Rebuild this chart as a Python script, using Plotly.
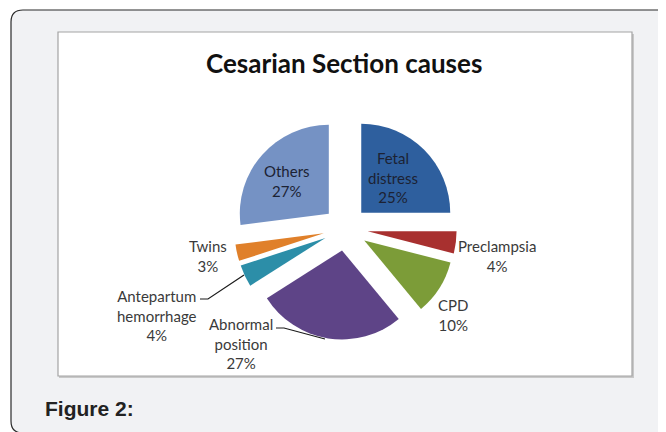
import plotly.graph_objects as go

# data
causes = ["Fetal distress", "Preclampsia", "CPD", "Abnormal position",
          "Antepartum hemorrhage", "Twins", "Others"]
percent = [25, 4, 10, 27, 4, 3, 27]
label_lines = [["Fetal", "distress"], ["Preclampsia"], ["CPD"], ["Abnormal", "position"],
               ["Antepartum", "hemorrhage"], ["Twins"], ["Others"]]

colors = ["#2e5f9e", "#a8302f", "#7c9c38", "#5e4487", "#2c8ea8", "#e0802a", "#7592c4"]
# label centres in page pixels (x, y from top)
label_pos = [(393, 177), (497, 256), (453, 315), (241, 343), (157, 315), (208, 256), (287, 181)]

W, H = 666, 432
OFF = 8  # the page body margin shifts the figure by 8px


def px(x):
    return (x - OFF) / W


def py(y):
    return 1 - (y - OFF) / H


fig = go.Figure()

# pie centre / radius in page pixels
cx, cy, r, pull = 345.5, 228.5, 89, 0.25
half = r * (1 + pull)

fig.add_trace(go.Pie(
    labels=causes,
    values=percent,
    sort=False,
    direction="clockwise",
    rotation=0,
    pull=[pull] * len(percent),
    marker=dict(colors=colors, line=dict(width=0)),
    textinfo="none",
    hoverinfo="label+percent",
    showlegend=False,
    domain=dict(x=[px(cx - half), px(cx + half)], y=[py(cy + half), py(cy - half)]),
))

shapes = []
# outer rounded panel (right and bottom edges run off the page)
rad = 12
x0, y0, y1 = 11, 10, 433
shapes.append(dict(
    type="path", xref="paper", yref="paper", layer="below",
    path=(f"M {px(700)},{py(y0)} L {px(x0 + rad)},{py(y0)} "
          f"Q {px(x0)},{py(y0)} {px(x0)},{py(y0 + rad)} "
          f"L {px(x0)},{py(y1 - rad)} Q {px(x0)},{py(y1)} {px(x0 + rad)},{py(y1)} "
          f"L {px(700)},{py(y1)} Z"),
    fillcolor="#f1f2f4", line=dict(color="#2b2b2b", width=1.2),
))
# chart box with a soft shadow
shapes.append(dict(type="rect", xref="paper", yref="paper", layer="below",
                   x0=px(59), y0=py(378), x1=px(634), y1=py(34),
                   fillcolor="#c8c8c8", line=dict(width=0)))
shapes.append(dict(type="rect", xref="paper", yref="paper", layer="below",
                   x0=px(58), y0=py(376), x1=px(632), y1=py(32),
                   fillcolor="white", line=dict(color="#a3a3a3", width=1.2)))
# leader lines
for pts in [[(200, 299), (208, 299), (244, 275)],
            [(276, 328), (284, 328), (325, 339)]]:
    path = "M " + " L ".join(f"{px(a)},{py(b)}" for a, b in pts)
    shapes.append(dict(type="path", xref="paper", yref="paper", layer="above",
                       path=path, line=dict(color="#1a1a1a", width=1.2)))

annotations = []
for i, (lines, val, (lx, ly)) in enumerate(zip(label_lines, percent, label_pos)):
    annotations.append(dict(
        x=px(lx), y=py(ly), xref="paper", yref="paper",
        text="<br>".join(lines + [f"{val}%"]), showarrow=False,
        xanchor="center", yanchor="middle", align="center",
        font=dict(family="Lato", size=15,
                  color="#1c2233" if i in (0, 6) else "#3a3a3a"),
    ))
annotations.append(dict(
    x=px(344), y=py(63), xref="paper", yref="paper",
    text="<b>Cesarian Section causes</b>", showarrow=False,
    xanchor="center", yanchor="middle",
    font=dict(family="Lato", size=26, color="#111111"),
))
annotations.append(dict(
    x=px(43), y=py(408), xref="paper", yref="paper",
    text="<b>Figure 2:</b>", showarrow=False,
    xanchor="left", yanchor="middle",
    font=dict(family="Liberation Sans", size=21, color="#222222"),
))

fig.update_layout(
    width=W, height=H,
    margin=dict(l=0, r=0, t=0, b=0),
    paper_bgcolor="white",
    shapes=shapes,
    annotations=annotations,
)

fig.write_html("out.html")
